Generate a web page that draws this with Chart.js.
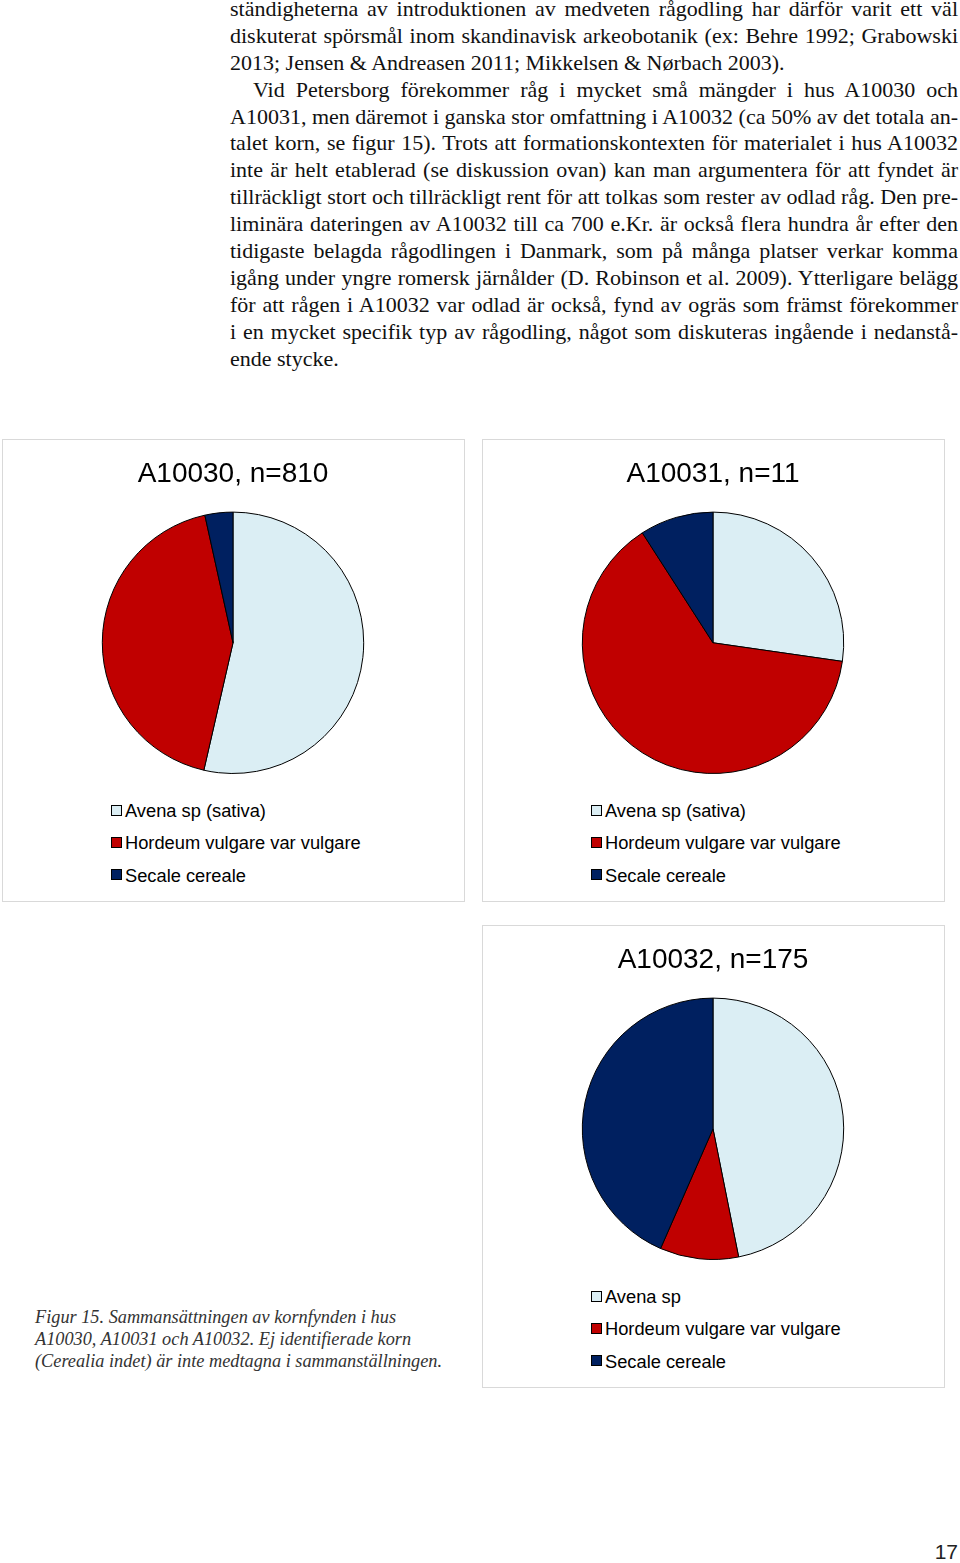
<!DOCTYPE html>
<html>
<head>
<meta charset="utf-8">
<script src="https://cdn.jsdelivr.net/npm/chart.js@4"></script>
<style>
  html, body { margin: 0; padding: 0; background: #fff; }
  body { width: 960px; height: 1563px; position: relative; overflow: hidden; }
  #bodytext {
    position: absolute; left: 230px; top: -4px; width: 728px;
    font-family: "Liberation Serif", "Times New Roman", serif; font-size: 22px; color: #111;
  }
  .ln { white-space: nowrap; height: 26.9px; line-height: 26.9px; transform-origin: left center; }
  .j { text-align: justify; text-align-last: justify; }
  .box {
    position: absolute; width: 463px; height: 463px; box-sizing: border-box;
    border: 1px solid #d9d9d9; background: #fff;
  }
  .box canvas { position: absolute; left: 0; top: 0; }
  .legend {
    position: absolute; left: 108px; top: 355px;
    font-family: "Liberation Sans", Arial, sans-serif; font-size: 18.3px; color: #000;
  }
  .legend .item { height: 32.4px; line-height: 32.4px; white-space: nowrap; }
  .legend .sw {
    display: inline-block; width: 9px; height: 9px; border: 1px solid #000;
    margin-right: 3px; vertical-align: middle; position: relative; top: -2px;
  }
  #caption {
    position: absolute; left: 35px; top: 1306px;
    font-family: "Liberation Serif", "Times New Roman", serif; font-style: italic;
    font-size: 18.3px; line-height: 22px; color: #333; white-space: nowrap;
  }
  #pagenum {
    position: absolute; right: 2px; top: 1540px;
    font-family: "Liberation Sans", Arial, sans-serif; font-size: 21px; color: #222;
  }
</style>
</head>
<body>

<div id="bodytext">
  <div class="ln j"><span>ständigheterna av introduktionen av medveten rågodling har därför varit ett väl</span></div>
  <div class="ln j"><span>diskuterat spörsmål inom skandinavisk arkeobotanik (ex: Behre 1992; Grabowski</span></div>
  <div class="ln"><span>2013; Jensen &amp; Andreasen 2011; Mikkelsen &amp; Nørbach 2003).</span></div>
  <div class="ln j" style="padding-left:23px"><span>Vid Petersborg förekommer råg i mycket små mängder i hus A10030 och</span></div>
  <div class="ln j"><span>A10031, men däremot i ganska stor omfattning i A10032 (ca 50% av det totala an-</span></div>
  <div class="ln j"><span>talet korn, se figur 15). Trots att formationskontexten för materialet i hus A10032</span></div>
  <div class="ln j"><span>inte är helt etablerad (se diskussion ovan) kan man argumentera för att fyndet är</span></div>
  <div class="ln j"><span>tillräckligt stort och tillräckligt rent för att tolkas som rester av odlad råg. Den pre-</span></div>
  <div class="ln j"><span>liminära dateringen av A10032 till ca 700 e.Kr. är också flera hundra år efter den</span></div>
  <div class="ln j"><span>tidigaste belagda rågodlingen i Danmark, som på många platser verkar komma</span></div>
  <div class="ln j"><span>igång under yngre romersk järnålder (D. Robinson et al. 2009). Ytterligare belägg</span></div>
  <div class="ln j"><span>för att rågen i A10032 var odlad är också, fynd av ogräs som främst förekommer</span></div>
  <div class="ln j"><span>i en mycket specifik typ av rågodling, något som diskuteras ingående i nedanstå-</span></div>
  <div class="ln"><span>ende stycke.</span></div>
</div>

<div class="box" style="left:2px; top:439px;"><canvas id="pie1" width="460" height="334"></canvas><div class="legend" id="legend1"></div></div>
<div class="box" style="left:482px; top:439px;"><canvas id="pie2" width="460" height="334"></canvas><div class="legend" id="legend2"></div></div>
<div class="box" style="left:482px; top:925px;"><canvas id="pie3" width="460" height="334"></canvas><div class="legend" id="legend3"></div></div>

<div id="caption">Figur 15. Sammansättningen av kornfynden i hus<br>A10030, A10031 och A10032. Ej identifierade korn<br>(Cerealia indet) är inte medtagna i sammanställningen.</div>
<div id="pagenum">17</div>

<script>
// grain counts per house
const labelsSativa = ['Avena sp (sativa)', 'Hordeum vulgare var vulgare', 'Secale cereale'];
const labelsAvena = ['Avena sp', 'Hordeum vulgare var vulgare', 'Secale cereale'];
const countsA10030 = [434, 348, 28];
const countsA10031 = [3, 7, 1];
const countsA10032 = [82, 17, 76];
const titles = ['A10030, n=810', 'A10031, n=11', 'A10032, n=175'];
const sliceColors = ['#DBEEF4', '#C00000', '#002060'];

// squeeze body text lines that are too wide
document.querySelectorAll('#bodytext .ln').forEach(line => {
    const span = line.querySelector('span');
    const pad = parseFloat(line.style.paddingLeft) || 0;
    const avail = 728 - pad;
    const w = span.offsetWidth;
    if (w > avail) {
        line.style.width = (w + pad) + 'px';
        line.style.transform = 'scaleX(' + (728 / (w + pad)) + ')';
    }
});

function makePie(canvasId, legendId, title, labels, counts) {
    const ctx = document.getElementById(canvasId).getContext('2d');
    const chart = new Chart(ctx, {
        type: 'pie',
        data: {
            labels: labels,
            datasets: [{
                data: counts,
                backgroundColor: sliceColors,
                borderColor: '#000',
                borderWidth: 1
            }]
        },
        options: {
            responsive: false,
            animation: false,
            layout: { padding: 0 },
            plugins: {
                legend: { display: false },
                tooltip: { enabled: false },
                title: {
                    display: true,
                    text: title,
                    color: '#000',
                    font: { family: 'Liberation Sans, Arial, sans-serif', size: 28, weight: 'normal' },
                    padding: { top: 17, bottom: 21 }
                }
            }
        }
    });

    // legend built as html list, one per row
    const legend = document.getElementById(legendId);
    labels.forEach((label, i) => {
        const item = document.createElement('div');
        item.className = 'item';
        item.innerHTML = '<span class="sw" style="background:' + sliceColors[i] + '"></span>' + label;
        legend.appendChild(item);
    });
    return chart;
}

makePie('pie1', 'legend1', titles[0], labelsSativa, countsA10030);
makePie('pie2', 'legend2', titles[1], labelsSativa, countsA10031);
makePie('pie3', 'legend3', titles[2], labelsAvena, countsA10032);
</script>
</body>
</html>
